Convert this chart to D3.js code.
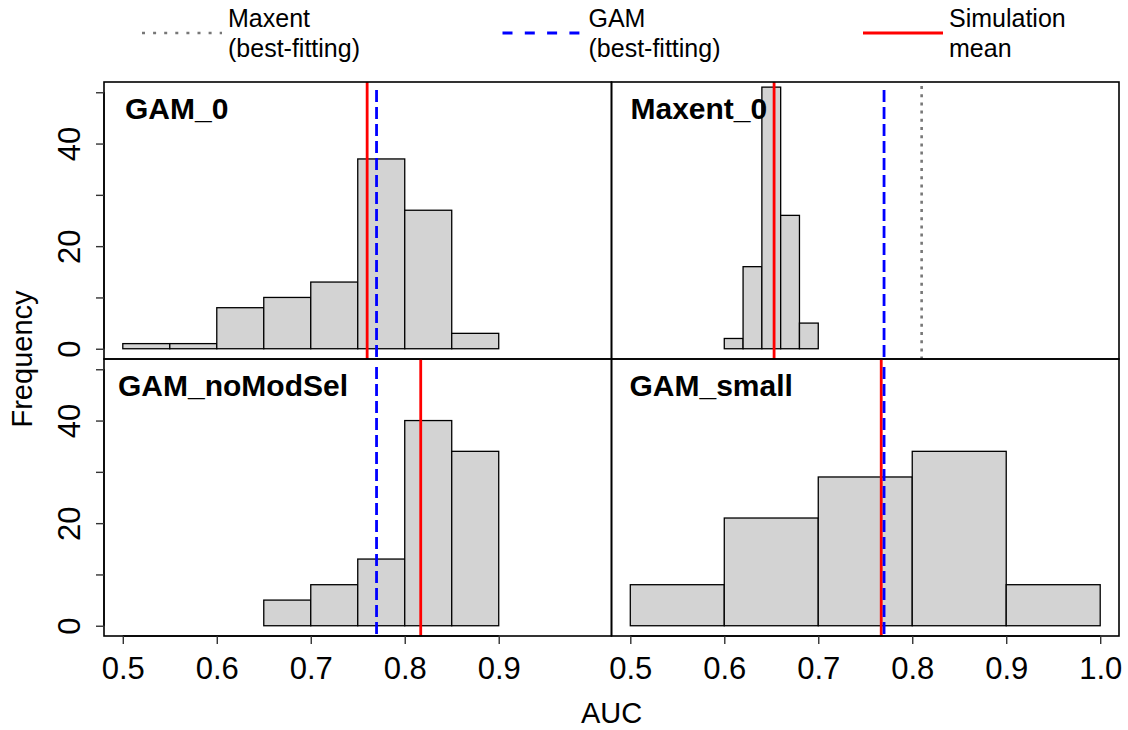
<!DOCTYPE html>
<html>
<head>
<meta charset="utf-8">
<script src="https://cdn.jsdelivr.net/npm/d3@7"></script>
<style>
    body { margin: 0; background: #fff; }
    svg { display: block; font-family: "Liberation Sans", Arial, sans-serif; }
</style>
</head>
<body>
<div id="chart"></div>
<script>
// Panel names (row-wise, as in the figure)
const panelNames = ["GAM_0", "Maxent_0", "GAM_noModSel", "GAM_small"];

// Histogram breaks and counts for each panel
const gam0Breaks = [0.50, 0.55, 0.60, 0.65, 0.70, 0.75, 0.80, 0.85, 0.90];
const gam0Counts = [1, 1, 8, 10, 13, 37, 27, 3];

const maxent0Breaks = [0.60, 0.62, 0.64, 0.66, 0.68, 0.70];
const maxent0Counts = [2, 16, 51, 26, 5];

const noModSelBreaks = [0.65, 0.70, 0.75, 0.80, 0.85, 0.90];
const noModSelCounts = [5, 8, 13, 40, 34];

const smallBreaks = [0.5, 0.6, 0.7, 0.8, 0.9, 1.0];
const smallCounts = [8, 21, 29, 34, 8];

// Reference lines per panel
const simMean = [0.760, 0.653, 0.817, 0.767];
const gamBest = [0.770, 0.770, 0.770, 0.770];
const maxentBest = [null, 0.810, null, null];

// Axis ticks
const xTicksLeft = [0.5, 0.6, 0.7, 0.8, 0.9];
const xTicksRight = [0.5, 0.6, 0.7, 0.8, 0.9, 1.0];
const yTicks = [0, 10, 20, 30, 40, 50];
const yLabelled = [0, 20, 40];

const xLim = [0.5, 1.0];
const yLim = [0, 50];

// Legend
const legendLabels = [["Maxent", "(best-fitting)"], ["GAM", "(best-fitting)"], ["Simulation", "mean"]];

// ---- layout ----
const width = 1128, height = 730;
const plotLeft = 104, plotRight = 1119, plotTop = 82, plotBottom = 636;
const midX = (plotLeft + plotRight) / 2, midY = (plotTop + plotBottom) / 2;

const colors = { sim: "#ff0000", gam: "#0000ff", maxent: "#777777", bar: "#d3d3d3" };

// R-style 4% axis expansion
function expand([a, b]) {
    const pad = (b - a) * 0.04;
    return [a - pad, b + pad];
}

const svg = d3.select("#chart").append("svg")
    .attr("width", width)
    .attr("height", height);

const histData = [
    { breaks: gam0Breaks, counts: gam0Counts },
    { breaks: maxent0Breaks, counts: maxent0Counts },
    { breaks: noModSelBreaks, counts: noModSelCounts },
    { breaks: smallBreaks, counts: smallCounts }
];

// small per-panel nudges for the title text (px)
const titleDx = [21, 19, 14, 18];

histData.forEach((h, i) => {
    const col = i % 2, row = Math.floor(i / 2);
    const x0 = col === 0 ? plotLeft : midX;
    const x1 = col === 0 ? midX : plotRight;
    const y0 = row === 0 ? plotTop : midY;
    const y1 = row === 0 ? midY : plotBottom;

    const x = d3.scaleLinear().domain(expand(xLim)).range([x0, x1]);
    const y = d3.scaleLinear().domain(expand(yLim)).range([y1, y0]);

    const g = svg.append("g");

    const clipId = "clip" + i;
    svg.append("clipPath").attr("id", clipId)
        .append("rect")
        .attr("x", x0).attr("y", y0)
        .attr("width", x1 - x0).attr("height", y1 - y0);

    // bars
    const bins = h.counts.map((c, k) => ({ x0: h.breaks[k], x1: h.breaks[k + 1], n: c }));
    g.append("g")
        .selectAll("rect")
        .data(bins)
        .join("rect")
        .attr("x", d => x(d.x0))
        .attr("y", d => y(d.n))
        .attr("width", d => x(d.x1) - x(d.x0))
        .attr("height", d => y(0) - y(d.n))
        .attr("fill", colors.bar)
        .attr("stroke", "#000")
        .attr("stroke-width", 1.3);

    // reference lines
    const lines = g.append("g").attr("clip-path", `url(#${clipId})`);
    if (maxentBest[i] != null) {
        lines.append("line")
            .attr("x1", x(maxentBest[i])).attr("x2", x(maxentBest[i]))
            .attr("y1", y0 + 4).attr("y2", y1)
            .attr("stroke", colors.maxent)
            .attr("stroke-width", 2.6)
            .attr("stroke-dasharray", "3,5.2");
    }
    lines.append("line")
        .attr("x1", x(simMean[i])).attr("x2", x(simMean[i]))
        .attr("y1", y0).attr("y2", y1)
        .attr("stroke", colors.sim)
        .attr("stroke-width", 2.8);
    lines.append("line")
        .attr("x1", x(gamBest[i])).attr("x2", x(gamBest[i]))
        .attr("y1", y0 + 8).attr("y2", y1)
        .attr("stroke", colors.gam)
        .attr("stroke-width", 2.8)
        .attr("stroke-dasharray", "12,5");

    // frame
    g.append("rect")
        .attr("x", x0).attr("y", y0)
        .attr("width", x1 - x0).attr("height", y1 - y0)
        .attr("fill", "none")
        .attr("stroke", "#000")
        .attr("stroke-width", 1.6);

    // panel title
    g.append("text")
        .attr("x", x0 + titleDx[i])
        .attr("y", y0 + 37)
        .attr("font-size", 30)
        .attr("font-weight", "bold")
        .text(panelNames[i]);

    // y axis on left column
    if (col === 0) {
        const ya = g.append("g")
            .attr("transform", `translate(${x0},0)`)
            .call(d3.axisLeft(y)
                .tickValues(yTicks)
                .tickSize(8)
                .tickSizeOuter(0)
                .tickFormat(d => yLabelled.includes(d) ? d : ""));
        ya.select(".domain")
            .attr("d", `M0,${y(yTicks[0])}V${y(yTicks[yTicks.length - 1])}`)
            .attr("stroke-width", 1.4);
        ya.selectAll(".tick line").attr("stroke", "#333").attr("stroke-width", 1.4);
        ya.selectAll(".tick text")
            .attr("transform", "rotate(-90)")
            .attr("x", 0)
            .attr("y", -24)
            .attr("dy", 0)
            .attr("text-anchor", "middle")
            .attr("font-size", 31)
            .attr("font-family", null)
            .attr("fill", "#000");
    }

    // x axis on bottom row
    if (row === 1) {
        const ticks = col === 0 ? xTicksLeft : xTicksRight;
        const xa = g.append("g")
            .attr("transform", `translate(0,${y1})`)
            .call(d3.axisBottom(x)
                .tickValues(ticks)
                .tickSize(8)
                .tickSizeOuter(0)
                .tickFormat(d3.format(".1f")));
        xa.select(".domain")
            .attr("d", `M${x(ticks[0])},0H${x(ticks[ticks.length - 1])}`)
            .attr("stroke-width", 1.4);
        xa.selectAll(".tick line").attr("stroke", "#333").attr("stroke-width", 1.4);
        xa.selectAll(".tick text")
            .attr("y", 43)
            .attr("dy", 0)
            .attr("font-size", 31)
            .attr("font-family", null)
            .attr("fill", "#000");
    }
});

// axis titles
svg.append("text")
    .attr("x", midX)
    .attr("y", 723)
    .attr("text-anchor", "middle")
    .attr("font-size", 29)
    .text("AUC");

svg.append("text")
    .attr("transform", `translate(32,${midY}) rotate(-90)`)
    .attr("text-anchor", "middle")
    .attr("font-size", 29)
    .text("Frequency");

// legend across the top
const legendStyles = [
    { stroke: colors.maxent, dash: "3,8.1", width: 2.6 },
    { stroke: colors.gam, dash: "10,12.3", width: 3 },
    { stroke: colors.sim, dash: null, width: 3 }
];
const legendX = d3.scalePoint().domain(d3.range(legendLabels.length)).range([142, 863]);

const legend = svg.append("g")
    .selectAll("g")
    .data(legendLabels)
    .join("g")
    .attr("transform", (d, i) => `translate(${legendX(i)},33)`);

legend.append("line")
    .attr("x1", 0).attr("x2", 80)
    .attr("stroke", (d, i) => legendStyles[i].stroke)
    .attr("stroke-width", (d, i) => legendStyles[i].width)
    .attr("stroke-dasharray", (d, i) => legendStyles[i].dash);

legend.append("text")
    .attr("font-size", 25)
    .selectAll("tspan")
    .data(d => d)
    .join("tspan")
    .attr("x", 86)
    .attr("y", (d, k) => -6 + k * 30)
    .text(d => d);
</script>
</body>
</html>
